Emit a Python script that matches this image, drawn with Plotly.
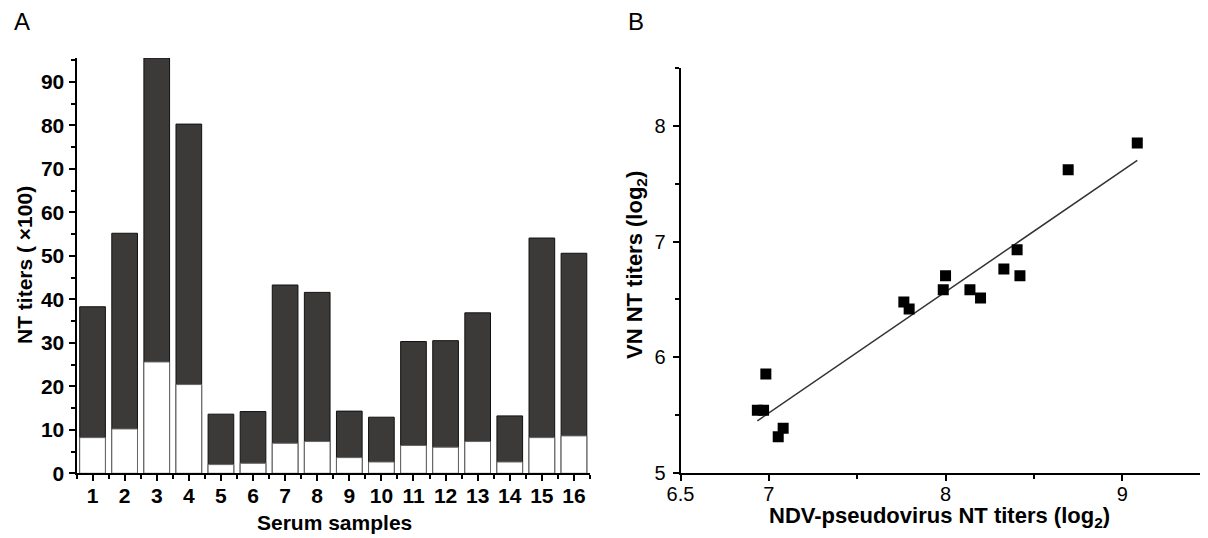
import plotly.graph_objects as go
import numpy as np

# Panel A data
samples = list(range(1, 17))
titer_dark = [38.3, 55.2, 95.5, 80.3, 13.6, 14.2, 43.3, 41.6, 14.3, 12.9, 30.3, 30.5, 36.9, 13.2, 54.1, 50.6]
titer_white = [8.2, 10.2, 25.6, 20.4, 2.0, 2.3, 6.9, 7.3, 3.6, 2.6, 6.4, 6.0, 7.3, 2.6, 8.2, 8.6]
a_yticks = [0, 10, 20, 30, 40, 50, 60, 70, 80, 90]

# Panel B data
pseudo_log2 = [6.935, 6.970, 6.983, 7.053, 7.081, 7.764, 7.794, 8.000, 7.987, 8.138, 8.198, 8.330, 8.405, 8.421, 8.694, 9.085]
vn_log2 = [5.540, 5.540, 5.855, 5.312, 5.385, 6.478, 6.416, 6.705, 6.583, 6.583, 6.511, 6.762, 6.930, 6.705, 7.623, 7.854]
b_xticks = [6.5, 7, 8, 9]
b_xticklabels = ["6.5", "7", "8", "9"]
b_yticks = [5, 6, 7, 8]

slope, intercept = np.polyfit(pseudo_log2, vn_log2, 1)
fit_x = [min(pseudo_log2), max(pseudo_log2)]
fit_y = [slope * v + intercept for v in fit_x]

# page has an 8px body margin; figure sized to fill the rest of the window
OFF = 8
W, H = 1208 - OFF, 538 - OFF
def px(x):
    return (x - OFF) / W
def py(y):
    return 1 - (y - OFF) / H

sans = "Liberation Sans, Arial, sans-serif"

fig = go.Figure()
fig.add_trace(go.Bar(x=samples, y=titer_dark, width=0.8, marker=dict(color="#3c3939", line=dict(color="#111111", width=1)),
                     xaxis="x", yaxis="y", showlegend=False))
fig.add_trace(go.Bar(x=samples, y=titer_white, width=0.8, marker=dict(color="white", line=dict(color="#666666", width=1)),
                     xaxis="x", yaxis="y", showlegend=False))
fig.add_trace(go.Scatter(x=fit_x, y=fit_y, mode="lines", line=dict(color="#333333", width=1.5),
                         xaxis="x2", yaxis="y2", showlegend=False))
fig.add_trace(go.Scatter(x=pseudo_log2, y=vn_log2, mode="markers",
                         marker=dict(symbol="square", size=11, color="black"),
                         xaxis="x2", yaxis="y2", showlegend=False))

axis_common = dict(showgrid=False, zeroline=False, showline=True, linecolor="black", linewidth=2,
                   ticks="outside", tickcolor="black", tickwidth=2, ticklen=6, automargin=False)
minor_common = dict(ticks="outside", ticklen=4, tickcolor="black", tickwidth=2)

fig.update_layout(
    width=W, height=H, margin=dict(l=0, r=0, t=0, b=0, autoexpand=False),
    paper_bgcolor="white", plot_bgcolor="white", barmode="overlay",
    xaxis=dict(domain=[px(76.5), px(590)], range=[0.5, 16.5], anchor="y",
               tickmode="array", tickvals=samples, ticktext=[str(s) for s in samples],
               tickfont=dict(family=sans, size=21, color="black", weight="bold"),
               ticklabelstandoff=-4,
               minor=dict(tickmode="linear", tick0=0.5, dtick=1, **minor_common),
               **axis_common),
    yaxis=dict(domain=[py(473.3), py(58)], range=[0, 95.5], anchor="x",
               tickmode="array", tickvals=a_yticks,
               tickfont=dict(family=sans, size=21, color="black", weight="bold"),
               minor=dict(tickmode="linear", tick0=0, dtick=5, **minor_common),
               **axis_common),
    xaxis2=dict(domain=[px(680.5), 1.0], range=[6.5, 6.5 + (1208 - 680.5) / 176.7], anchor="y2",
                tickmode="array", tickvals=b_xticks, ticktext=b_xticklabels,
                tickfont=dict(family=sans, size=20, color="black"),
                ticklabelstandoff=-4,
                minor=dict(tickmode="linear", tick0=6.5, dtick=0.5, **minor_common),
                **axis_common),
    yaxis2=dict(domain=[py(472.7), py(68.3)], range=[5, 8.5], anchor="x2",
                tickmode="array", tickvals=b_yticks,
                tickfont=dict(family=sans, size=20, color="black"),
                ticklabelstandoff=3,
                minor=dict(tickmode="linear", tick0=5, dtick=0.5, **minor_common),
                **axis_common),
)

annotations = [
    dict(text="A", x=px(22), y=py(22), font=dict(family=sans, size=24, color="black")),
    dict(text="B", x=px(636), y=py(22), font=dict(family=sans, size=24, color="black")),
    dict(text="<b>NT titers ( ×100)</b>", x=px(24), y=py(265), textangle=-90, font=dict(family=sans, size=21, color="black")),
    dict(text="<b>Serum samples</b>", x=px(334), y=py(522), font=dict(family=sans, size=21, color="black")),
    dict(text="<b>VN NT titers (log<sub>2</sub>)</b>", x=px(636), y=py(265), textangle=-90, font=dict(family=sans, size=22, color="black")),
    dict(text="<b>NDV-pseudovirus NT titers (log<sub>2</sub>)</b>", x=px(940), y=py(517), font=dict(family=sans, size=22, color="black")),
]
for a in annotations:
    a.update(xref="paper", yref="paper", showarrow=False, xanchor="center", yanchor="middle")
fig.update_layout(annotations=annotations)

fig.write_html("out.html")
